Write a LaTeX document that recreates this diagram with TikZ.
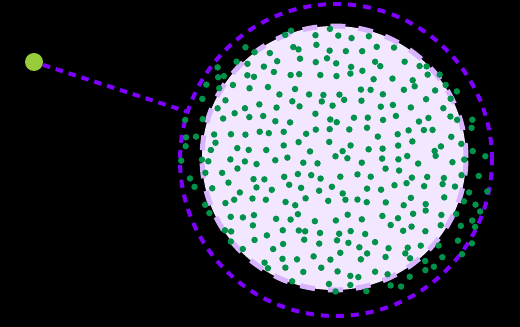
\documentclass[tikz,border=0pt]{standalone}
\usetikzlibrary{positioning}
\definecolor{ringviolet}{HTML}{7F00FF}
\definecolor{discfill}{HTML}{F3E6FF}
\definecolor{discedge}{HTML}{D8B4FE}
\definecolor{dotgreen}{HTML}{00924A}
\definecolor{srcgreen}{HTML}{99CC3C}
\tikzset{
  ring/.style={circle, draw=ringviolet, line width=0.08cm,
               dash pattern=on 0.16cm off 0.14cm,
               minimum size=6.24cm, inner sep=0pt},
  disc/.style={circle, fill=discfill, draw=discedge, line width=0.1cm,
               dash pattern=on 0.3cm off 0.26cm,
               minimum size=5.28cm, inner sep=0pt},
  src/.style={circle, fill=srcgreen, minimum size=0.36cm, inner sep=0pt},
  link/.style={draw=ringviolet, line width=0.08cm,
               dash pattern=on 0.15cm off 0.12cm},
  pt/.style={fill=dotgreen},
}
\begin{document}
\begin{tikzpicture}[x=0.02cm, y=-0.02cm]
  % background and frame
  \fill[black] (0,0) rectangle (520,327);
  \useasboundingbox (0,0) rectangle (520,327);
  \node[ring] (outer) at (336,160) {};
  \node[disc] (inner) at (334,158) {};
  % scattered points (jittered grid inside a tilted ellipse)
  \pgfmathsetseed{5}
  \foreach \i in {0,...,22}{
    \foreach \j in {0,...,20}{
      \pgfmathsetmacro{\px}{168+15*\i+7.5*mod(\j,2)+11*(rnd-0.5)}
      \pgfmathsetmacro{\py}{20+14*\j+11*(rnd-0.5)}
      \pgfmathsetmacro{\uu}{((\px-336)*cos(22)+(\py-160)*sin(22))/162}
      \pgfmathsetmacro{\vv}{((\py-160)*cos(22)-(\px-336)*sin(22))/129}
      \pgfmathtruncatemacro{\inside}{(\uu*\uu+\vv*\vv<1) ? 1 : 0}
      \ifnum\inside=1
        \fill[pt] (\px,\py) circle[radius=0.065cm];
      \fi
    }
  }
  \node[src] (query) at (34,62) {};
  \draw[link] (query) -- (outer);
\end{tikzpicture}
\end{document}
